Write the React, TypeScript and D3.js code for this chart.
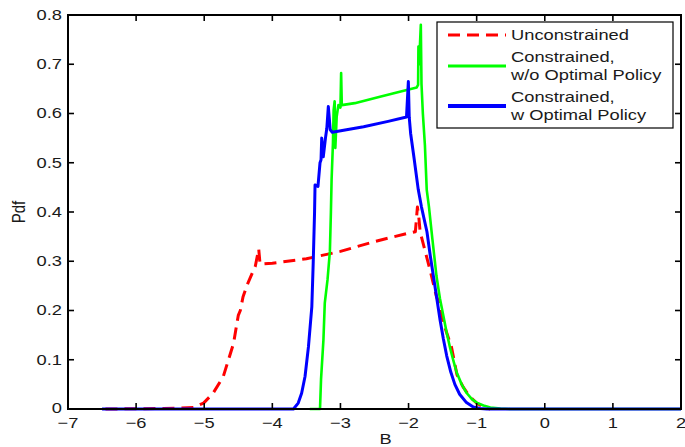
import React from "react";
import * as d3 from "d3";

const xTicks = [-7, -6, -5, -4, -3, -2, -1, 0, 1, 2];
const xTickLabels = ["−7", "−6", "−5", "−4", "−3", "−2", "−1", "0", "1", "2"];
const yTicks = [0, 0.1, 0.2, 0.3, 0.4, 0.5, 0.6, 0.7, 0.8];
const yTickLabels = ["0", "0.1", "0.2", "0.3", "0.4", "0.5", "0.6", "0.7", "0.8"];

const legendLabels = [
  ["Unconstrained"],
  ["Constrained,", "w/o Optimal Policy"],
  ["Constrained,", "w Optimal Policy"],
];

// Unconstrained (red dashed)
const unconstrained: [number, number][] = [
  [-6.45, 0], [-5.6, 0.001], [-5.16, 0.003], [-5.01, 0.012], [-4.87, 0.032], [-4.72, 0.066],
  [-4.57, 0.133], [-4.5, 0.19], [-4.47, 0.2], [-4.43, 0.228], [-4.36, 0.255], [-4.25, 0.29],
  [-4.2, 0.325], [-4.18, 0.294], [-4.0, 0.296], [-3.5, 0.305], [-3.0, 0.32], [-2.5, 0.34],
  [-2.0, 0.357], [-1.9, 0.36], [-1.87, 0.41], [-1.85, 0.39], [-1.83, 0.36], [-1.78, 0.333],
  [-1.68, 0.28], [-1.59, 0.228], [-1.55, 0.215], [-1.49, 0.175], [-1.37, 0.126], [-1.29, 0.07],
  [-1.2, 0.045], [-1.1, 0.025], [-1.0, 0.012], [-0.9, 0.004], [-0.8, 0.0],
];

// Constrained, w/o optimal policy (green)
const constrainedNoPolicy: [number, number][] = [
  [-3.45, 0], [-3.3, 0], [-3.285, 0.06], [-3.25, 0.14], [-3.23, 0.215], [-3.19, 0.262],
  [-3.155, 0.32], [-3.14, 0.4], [-3.13, 0.465], [-3.11, 0.54], [-3.1, 0.607], [-3.085, 0.625],
  [-3.075, 0.53], [-3.055, 0.594], [-3.03, 0.617], [-3.0, 0.612], [-2.99, 0.682], [-2.98, 0.617],
  [-2.79, 0.621], [-2.42, 0.634], [-2.1, 0.645], [-1.88, 0.653], [-1.86, 0.658], [-1.855, 0.736],
  [-1.845, 0.7], [-1.82, 0.78], [-1.81, 0.66], [-1.79, 0.6], [-1.76, 0.536], [-1.733, 0.445],
  [-1.7, 0.41], [-1.65, 0.345], [-1.59, 0.27], [-1.54, 0.225], [-1.49, 0.19], [-1.44, 0.155],
  [-1.39, 0.124], [-1.34, 0.097], [-1.29, 0.073], [-1.22, 0.05], [-1.15, 0.033], [-1.07, 0.02],
  [-1.0, 0.013], [-0.9, 0.007], [-0.8, 0.003], [-0.65, 0.001], [-0.5, 0], [2, 0],
];

// Constrained, with optimal policy (blue)
const constrainedPolicy: [number, number][] = [
  [-6.5, 0], [-3.69, 0], [-3.62, 0.012], [-3.57, 0.032], [-3.52, 0.066], [-3.47, 0.126],
  [-3.42, 0.208], [-3.4, 0.296], [-3.38, 0.4], [-3.373, 0.455], [-3.33, 0.452], [-3.3, 0.5],
  [-3.285, 0.506], [-3.275, 0.55], [-3.252, 0.512], [-3.22, 0.55], [-3.2, 0.57], [-3.178, 0.614],
  [-3.15, 0.567], [-3.12, 0.562], [-2.66, 0.573], [-2.3, 0.584], [-2.03, 0.593], [-2.003, 0.665],
  [-1.99, 0.592], [-1.97, 0.56], [-1.92, 0.51], [-1.857, 0.445], [-1.81, 0.41], [-1.73, 0.36],
  [-1.68, 0.31], [-1.63, 0.265], [-1.58, 0.22], [-1.54, 0.183], [-1.49, 0.143], [-1.44, 0.108],
  [-1.38, 0.075], [-1.32, 0.05], [-1.25, 0.03], [-1.15, 0.013], [-1.05, 0.004], [-0.95, 0.001],
  [-0.85, 0], [2, 0],
];

const W = 685;
const H = 447;
const M = { left: 68, right: 681, top: 15, bottom: 409 };
const FONT = "'Liberation Sans', Arial, Helvetica, sans-serif";
const SX = 1.22;
const TEXT = "#1a1a1a";

function Txt({ x, y, anchor = "start", rotate = false, children }: any) {
  const t = rotate
    ? `translate(${x},${y}) scale(${SX},1) rotate(-90)`
    : `translate(${x},${y}) scale(${SX},1)`;
  return (
    <text transform={t} textAnchor={anchor} dominantBaseline="central" fontFamily={FONT} fontSize={15} fill={TEXT}>
      {children}
    </text>
  );
}

export default function App() {
  const x = d3.scaleLinear().domain([-7, 2]).range([M.left, M.right]);
  const y = d3.scaleLinear().domain([0, 0.8]).range([M.bottom, M.top]);
  const line = d3
    .line<[number, number]>()
    .x((d) => x(d[0]))
    .y((d) => y(d[1]));

  const tickLen = 6;
  const legend = { x0: 437, y0: 22, x1: 673, y1: 128 };
  const legendItems = [
    { color: "#ff0000", dash: "12,7", width: 3, lineY: 35, textY: [35] },
    { color: "#00ff00", dash: undefined, width: 3, lineY: 66, textY: [57, 75] },
    { color: "#0000ff", dash: undefined, width: 4, lineY: 106, textY: [97, 115] },
  ];

  return (
    <svg width={W} height={H} style={{ position: "absolute", left: 0, top: 0, background: "#fff" }}>
      <rect x={0} y={0} width={W} height={H} fill="#fff" />
      <g>
        <path d={line(unconstrained) || ""} fill="none" stroke="#ff0000" strokeWidth={3} strokeDasharray="12,7" strokeLinejoin="round" />
        <path d={line(constrainedNoPolicy) || ""} fill="none" stroke="#00ff00" strokeWidth={2.6} strokeLinejoin="round" />
        <path d={line(constrainedPolicy) || ""} fill="none" stroke="#0000ff" strokeWidth={3} strokeLinejoin="round" />
      </g>
      {/* axes box */}
      <rect x={M.left} y={M.top} width={M.right - M.left} height={M.bottom - M.top} fill="none" stroke="#000" strokeWidth={2} />
      {xTicks.map((t, i) => (
        <g key={"xt" + i}>
          <line x1={x(t)} x2={x(t)} y1={M.bottom} y2={M.bottom - tickLen} stroke="#000" strokeWidth={1.6} />
          <line x1={x(t)} x2={x(t)} y1={M.top} y2={M.top + tickLen} stroke="#000" strokeWidth={1.6} />
          <Txt x={x(t)} y={M.bottom + 14} anchor="middle">{xTickLabels[i]}</Txt>
        </g>
      ))}
      {yTicks.map((t, i) => (
        <g key={"yt" + i}>
          <line x1={M.left} x2={M.left + tickLen} y1={y(t)} y2={y(t)} stroke="#000" strokeWidth={1.6} />
          <line x1={M.right} x2={M.right - tickLen} y1={y(t)} y2={y(t)} stroke="#000" strokeWidth={1.6} />
          <Txt x={M.left - 6} y={y(t) - (t === 0 ? 1 : 0)} anchor="end">{yTickLabels[i]}</Txt>
        </g>
      ))}
      <Txt x={(M.left + M.right) / 2 + 11} y={439} anchor="middle">B</Txt>
      <Txt x={19} y={212} anchor="middle" rotate>Pdf</Txt>
      {/* legend */}
      <rect x={legend.x0} y={legend.y0} width={legend.x1 - legend.x0} height={legend.y1 - legend.y0} fill="#fff" stroke="#000" strokeWidth={1.2} />
      {legendItems.map((it, i) => (
        <g key={"lg" + i}>
          <line x1={448} x2={506} y1={it.lineY} y2={it.lineY} stroke={it.color} strokeWidth={it.width} strokeDasharray={it.dash} />
          {legendLabels[i].map((s, j) => (
            <Txt key={j} x={511} y={it.textY[j]}>{s}</Txt>
          ))}
        </g>
      ))}
    </svg>
  );
}
